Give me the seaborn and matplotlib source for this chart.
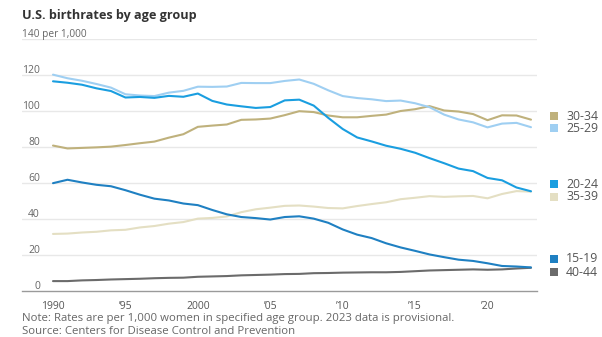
import matplotlib
matplotlib.use("Agg")
import matplotlib.pyplot as plt
import matplotlib.transforms as mtransforms
from matplotlib.patches import Rectangle
import seaborn as sns
import pandas as pd

years = list(range(1990, 2024))
age_15_19 = [59.9, 61.8, 60.3, 59.0, 58.2, 56.0, 53.5, 51.3, 50.3, 48.6, 47.7, 45.0, 42.6, 41.1,
             40.5, 39.7, 41.1, 41.5, 40.2, 37.9, 34.2, 31.3, 29.4, 26.5, 24.2, 22.3, 20.3, 18.8,
             17.4, 16.7, 15.4, 13.9, 13.6, 13.1]
age_20_24 = [116.5, 115.7, 114.6, 112.6, 111.1, 107.5, 107.8, 107.3, 108.4, 107.9, 109.7, 105.6,
             103.6, 102.6, 101.7, 102.2, 105.9, 106.3, 103.0, 96.2, 90.0, 85.3, 83.1, 80.7, 79.0,
             76.8, 73.8, 71.0, 68.0, 66.6, 62.8, 61.5, 57.5, 55.4]
age_25_29 = [120.2, 118.2, 116.8, 115.0, 113.0, 109.3, 108.6, 108.3, 110.2, 111.2, 113.5, 113.4,
             113.6, 115.6, 115.5, 115.5, 116.7, 117.5, 115.1, 111.5, 108.3, 107.2, 106.5, 105.5,
             105.8, 104.3, 102.1, 98.0, 95.3, 93.7, 90.9, 93.0, 93.4, 91.0]
age_30_34 = [80.8, 79.2, 79.5, 79.8, 80.2, 81.1, 82.1, 83.0, 85.2, 87.1, 91.2, 91.9, 92.5, 95.1,
             95.3, 95.8, 97.7, 99.9, 99.4, 97.5, 96.5, 96.5, 97.3, 98.0, 100.0, 101.0, 102.7,
             100.3, 99.7, 98.3, 94.9, 97.6, 97.5, 95.2]
age_35_39 = [31.7, 31.9, 32.5, 32.9, 33.7, 34.0, 35.3, 36.1, 37.4, 38.3, 40.2, 40.6, 41.4, 43.8,
             45.4, 46.3, 47.3, 47.5, 46.9, 46.1, 45.9, 47.2, 48.3, 49.3, 51.0, 51.8, 52.7, 52.3,
             52.6, 52.8, 51.5, 53.9, 55.5, 55.2]
age_40_44 = [5.5, 5.5, 5.9, 6.1, 6.4, 6.6, 6.8, 7.1, 7.3, 7.4, 7.9, 8.1, 8.3, 8.7, 8.9, 9.1, 9.4,
             9.5, 9.9, 10.0, 10.2, 10.3, 10.4, 10.4, 10.6, 11.0, 11.4, 11.6, 11.8, 12.0, 11.8,
             12.0, 12.5, 12.9]

series = {"40-44": age_40_44, "35-39": age_35_39, "30-34": age_30_34,
          "25-29": age_25_29, "15-19": age_15_19, "20-24": age_20_24}
colors = {"30-34": "#bfb17c", "25-29": "#9fcff2", "20-24": "#1a9ee0",
          "35-39": "#e4dfc3", "15-19": "#1f80c2", "40-44": "#6b6b6b"}
legend_order = [("30-34", 116), ("25-29", 128), ("20-24", 184),
                ("35-39", 197), ("15-19", 259), ("40-44", 272)]

y_ticks = [0, 20, 40, 60, 80, 100, 120]
x_major = [1990, 1995, 2000, 2005, 2010, 2015, 2020]
x_labels = ["1990", "\u201995", "2000", "\u201905", "\u201910", "\u201915", "\u201920"]

rows = []
for name, vals in series.items():
    for yr, v in zip(years, vals):
        rows.append({"year": yr, "rate": v, "age": name})
df = pd.DataFrame(rows)

sns.set_theme(style="white")
plt.rcParams["font.family"] = ["Open Sans", "DejaVu Sans"]

W, H = 602, 337
fig = plt.figure(figsize=(W / 100, H / 100), dpi=100)
ax_l, ax_r, ax_t, ax_b = 22, 537, 39, 291
ax = fig.add_axes([ax_l / W, 1 - ax_b / H, (ax_r - ax_l) / W, (ax_b - ax_t) / H])

sns.lineplot(data=df, x="year", y="rate", hue="age", palette=colors,
             hue_order=list(series.keys()), linewidth=1.5, legend=False, ax=ax)

px_per_year = (531 - 53) / 33
ax.set_xlim(1990 - (53 - ax_l) / px_per_year, 2023 + (ax_r - 531) / px_per_year)
ax.set_ylim(0, 140)

for v in y_ticks[1:] + [140]:
    ax.axhline(v, color="#e8e8e8", linewidth=1.0, zorder=0)

ax.set_yticks([])
ax.set_ylabel("")
ax.set_xlabel("")
for s in ["top", "right", "left"]:
    ax.spines[s].set_visible(False)
ax.spines["bottom"].set_color("#9a9a9a")
ax.spines["bottom"].set_linewidth(1.0)

ax.set_xticks(x_major)
ax.set_xticklabels(x_labels, fontsize=7.5, color="#555555")
ax.set_xticks(years, minor=True)
ax.tick_params(axis="x", which="major", length=3.5, width=0.8, color="#9a9a9a", pad=4)
ax.tick_params(axis="x", which="minor", length=2.2, width=0.7, color="#9a9a9a")

trans = mtransforms.offset_copy(ax.get_yaxis_transform(), fig=fig, x=0, y=2, units="dots")
xr = (40 - ax_l) / (ax_r - ax_l)
for v in y_ticks:
    ax.text(xr, v, str(v), transform=trans, ha="right", va="baseline",
            fontsize=7.5, color="#666666")
ax.text(0, 140, "140 per 1,000", transform=trans, ha="left", va="baseline",
        fontsize=7.3, color="#666666")

fig.text(22 / W, 1 - 15 / H, "U.S. birthrates by age group", ha="left", va="center",
         fontsize=9.1, fontweight="bold", color="#333333")

for name, yc in legend_order:
    fig.patches.append(Rectangle(((550) / W, 1 - (yc + 4) / H), 8 / W, 8 / H,
                                 transform=fig.transFigure, facecolor=colors[name],
                                 edgecolor="none"))
    fig.text(566 / W, 1 - yc / H, name, ha="left", va="center", fontsize=8.8,
             color="#555555")

fig.text(22 / W, 1 - 319 / H,
         "Note: Rates are per 1,000 women in specified age group. 2023 data is provisional.",
         ha="left", va="center", fontsize=8.2, color="#666666")
fig.text(22 / W, 1 - 332 / H, "Source: Centers for Disease Control and Prevention",
         ha="left", va="center", fontsize=8.2, color="#666666")

fig.savefig("out.png", dpi=100)
